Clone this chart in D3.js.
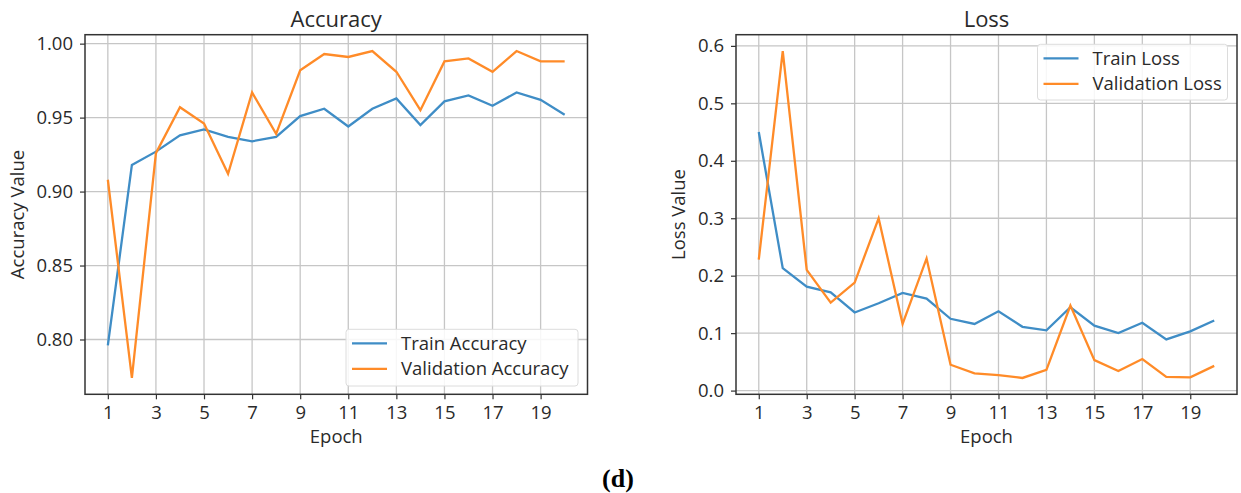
<!DOCTYPE html>
<html>
<head>
  <meta charset="utf-8">
  <title>Accuracy and Loss</title>
  <style>
    body { margin: 0; background: #fff; }
    text { font-family: "Open Sans", sans-serif; fill: #2a2a2a; }
  </style>
</head>
<body>
  <svg width="1241" height="493"></svg>
  <script src="https://d3js.org/d3.v7.min.js"></script>
  <script>
    // data
    var epochs = d3.range(1, 21);
    var trainAcc = [0.796, 0.918, 0.927, 0.938, 0.942, 0.937, 0.934, 0.937, 0.951, 0.956,
                    0.944, 0.956, 0.963, 0.945, 0.961, 0.965, 0.958, 0.967, 0.962, 0.952];
    var valAcc = [0.908, 0.774, 0.926, 0.957, 0.946, 0.912, 0.967, 0.939, 0.982, 0.993,
                  0.991, 0.995, 0.981, 0.955, 0.988, 0.990, 0.981, 0.995, 0.988, 0.988];
    var trainLoss = [0.450, 0.213, 0.181, 0.171, 0.136, 0.152, 0.170, 0.160, 0.125, 0.116,
                     0.138, 0.111, 0.105, 0.145, 0.113, 0.100, 0.118, 0.089, 0.103, 0.122];
    var valLoss = [0.228, 0.591, 0.210, 0.153, 0.188, 0.300, 0.116, 0.230, 0.045, 0.030,
                   0.027, 0.022, 0.036, 0.148, 0.053, 0.034, 0.055, 0.024, 0.023, 0.043];
    var xTicks = [1, 3, 5, 7, 9, 11, 13, 15, 17, 19];
    var accTicks = [0.80, 0.85, 0.90, 0.95, 1.00];
    var lossTicks = [0.0, 0.1, 0.2, 0.3, 0.4, 0.5, 0.6];

    var blue = "#3f8dc6", orange = "#ff8b28";
    var svg = d3.select("svg");

    // matplotlib-like 5% margins
    function padded(vals) {
      var ext = d3.extent(vals), m = (ext[1] - ext[0]) * 0.05;
      return [ext[0] - m, ext[1] + m];
    }

    function panel(opt) {
      var g = svg.append("g");
      var x = d3.scaleLinear().domain(padded(epochs)).range([opt.left, opt.right]);
      var y = d3.scaleLinear().domain(padded(opt.a.concat(opt.b))).range([opt.bottom, opt.top]);

      // grid
      g.selectAll(".gx").data(xTicks).enter().append("line")
        .attr("x1", d => x(d)).attr("x2", d => x(d))
        .attr("y1", opt.top).attr("y2", opt.bottom)
        .attr("stroke", "#c6c6c6").attr("stroke-width", 1.3);
      g.selectAll(".gy").data(opt.yTicks).enter().append("line")
        .attr("x1", opt.left).attr("x2", opt.right)
        .attr("y1", d => y(d)).attr("y2", d => y(d))
        .attr("stroke", "#c6c6c6").attr("stroke-width", 1.3);

      // lines
      var line = d3.line().x((d, i) => x(epochs[i])).y(d => y(d));
      g.append("path").datum(opt.a).attr("d", line)
        .attr("fill", "none").attr("stroke", blue).attr("stroke-width", 2.3);
      g.append("path").datum(opt.b).attr("d", line)
        .attr("fill", "none").attr("stroke", orange).attr("stroke-width", 2.3);

      // axes
      var xAxis = g.append("g").attr("transform", "translate(0," + opt.bottom + ")")
        .call(d3.axisBottom(x).tickValues(xTicks).tickFormat(d3.format("d")).tickSize(5).tickPadding(7));
      var yAxis = g.append("g").attr("transform", "translate(" + opt.left + ",0)")
        .call(d3.axisLeft(y).tickValues(opt.yTicks).tickFormat(d3.format(opt.fmt)).tickSize(5).tickPadding(7));
      [xAxis, yAxis].forEach(function (a) {
        a.select(".domain").remove();
        a.selectAll("line").attr("stroke", "#333").attr("stroke-width", 1.2);
        a.selectAll("text").attr("font-size", "18.5px").attr("fill", "#2a2a2a")
          .attr("font-family", "Open Sans");
      });

      // frame
      g.append("rect").attr("x", opt.left).attr("y", opt.top)
        .attr("width", opt.right - opt.left).attr("height", opt.bottom - opt.top)
        .attr("fill", "none").attr("stroke", "#333").attr("stroke-width", 1.5);

      // titles
      var cx = (opt.left + opt.right) / 2;
      g.append("text").attr("x", cx).attr("y", 27).attr("text-anchor", "middle")
        .attr("font-size", "22px").text(opt.title);
      g.append("text").attr("x", cx).attr("y", 443).attr("text-anchor", "middle")
        .attr("font-size", "18.5px").text("Epoch");
      g.append("text").attr("transform", "translate(" + opt.ylabX + "," + ((opt.top + opt.bottom) / 2) + ") rotate(-90)")
        .attr("text-anchor", "middle").attr("font-size", "18.5px").text(opt.ylabel);

      // legend
      var L = opt.legend;
      g.append("rect").attr("x", L.x).attr("y", L.y).attr("width", L.w).attr("height", L.h)
        .attr("rx", 3).attr("fill", "#fff").attr("fill-opacity", 0.85)
        .attr("stroke", "#dcdcdc").attr("stroke-width", 1);
      [[opt.names[0], blue], [opt.names[1], orange]].forEach(function (it, i) {
        var yy = L.y + 14 + i * 25.6;
        g.append("line").attr("x1", L.x + 6).attr("x2", L.x + 41)
          .attr("y1", yy).attr("y2", yy).attr("stroke", it[1]).attr("stroke-width", 2.3);
        g.append("text").attr("x", L.x + 55).attr("y", yy + 6.5)
          .attr("font-size", "18.5px").text(it[0]);
      });
    }

    panel({
      left: 85, right: 587.5, top: 34.7, bottom: 394.3,
      a: trainAcc, b: valAcc, yTicks: accTicks, fmt: ".2f",
      title: "Accuracy", ylabel: "Accuracy Value", ylabX: 23.5,
      names: ["Train Accuracy", "Validation Accuracy"],
      legend: { x: 346, y: 329.3, w: 232, h: 56.7 }
    });

    panel({
      left: 736, right: 1237, top: 34.7, bottom: 394.3,
      a: trainLoss, b: valLoss, yTicks: lossTicks, fmt: ".1f",
      title: "Loss", ylabel: "Loss Value", ylabX: 684.5,
      names: ["Train Loss", "Validation Loss"],
      legend: { x: 1037.5, y: 44.3, w: 190, h: 55.7 }
    });

    svg.append("text").attr("x", 618).attr("y", 487).attr("text-anchor", "middle")
      .style("font-family", "'Liberation Serif', serif").style("font-weight", "bold")
      .style("fill", "#000").attr("font-size", "26px").text("(d)");
  </script>
</body>
</html>
